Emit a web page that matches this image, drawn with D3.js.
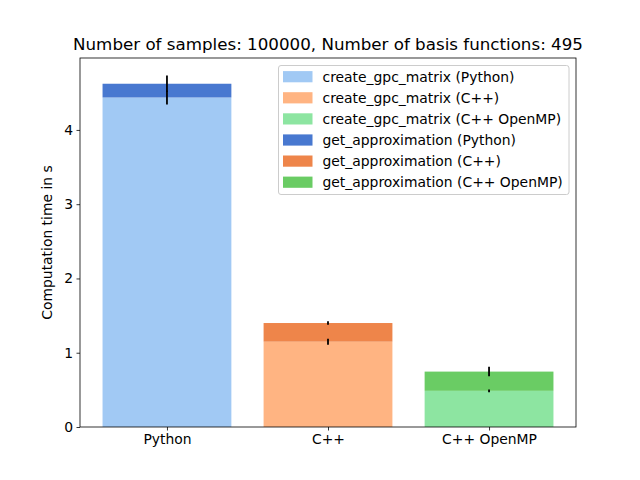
<!DOCTYPE html>
<html>
<head>
<meta charset="utf-8">
<script src="https://cdn.jsdelivr.net/npm/d3@7"></script>
<style>
  body { margin: 0; background: #fff; }
  text { font-family: "DejaVu Sans", sans-serif; fill: #000; }
</style>
</head>
<body>
<div id="chart"></div>
<script>
// Data
const categories = ["Python", "C++", "C++ OpenMP"];
const createTimes = [4.437, 1.149, 0.487];
const createErr = [0.094, 0.040, 0.018];
const approxTimes = [0.185, 0.251, 0.259];
const approxErr = [0.110, 0.023, 0.064];
const createLabels = ["create_gpc_matrix (Python)", "create_gpc_matrix (C++)", "create_gpc_matrix (C++ OpenMP)"];
const approxLabels = ["get_approximation (Python)", "get_approximation (C++)", "get_approximation (C++ OpenMP)"];
const createColors = ["#a1c9f4", "#ffb482", "#8de5a1"];
const approxColors = ["#4878d0", "#ee854a", "#6acc64"];
const yTicks = [0, 1, 2, 3, 4];

// Global const
const W = 640, H = 480;
const margin = {top: 58, right: 64, bottom: 53, left: 80};
const w = W - margin.left - margin.right;
const h = H - margin.top - margin.bottom;

let svg = d3.select("#chart")
  .append("svg")
    .attr("width", W)
    .attr("height", H);

let g = svg.append("g")
  .attr("transform", "translate(" + margin.left + "," + margin.top + ")");

// Scales
const idx = categories.map((d, i) => i);
const x = d3.scaleLinear().domain([-0.54, 2.54]).range([0, w]);
const barW = x(0.8) - x(0);

const ymax = d3.max(idx, i => createTimes[i] + approxTimes[i] + approxErr[i]) * 1.05;
const y = d3.scaleLinear().domain([0, ymax]).range([h, 0]);

// Bars: create_gpc_matrix
g.selectAll("rect.create")
  .data(idx)
  .enter()
  .append("rect")
    .attr("class", "create")
    .attr("x", i => x(i) - barW / 2)
    .attr("width", barW)
    .attr("y", i => y(createTimes[i]))
    .attr("height", i => y(0) - y(createTimes[i]))
    .style("fill", i => createColors[i]);

// Bars: get_approximation stacked on top
g.selectAll("rect.approx")
  .data(idx)
  .enter()
  .append("rect")
    .attr("class", "approx")
    .attr("x", i => x(i) - barW / 2)
    .attr("width", barW)
    .attr("y", i => y(createTimes[i] + approxTimes[i]))
    .attr("height", i => y(createTimes[i]) - y(createTimes[i] + approxTimes[i]))
    .style("fill", i => approxColors[i]);

// Error bars
g.selectAll("line.err-create")
  .data(idx)
  .enter()
  .append("line")
    .attr("x1", i => x(i)).attr("x2", i => x(i))
    .attr("y1", i => y(createTimes[i] - createErr[i]))
    .attr("y2", i => y(createTimes[i] + createErr[i]))
    .style("stroke", "#000")
    .style("stroke-width", 1.8);

g.selectAll("line.err-approx")
  .data(idx)
  .enter()
  .append("line")
    .attr("x1", i => x(i)).attr("x2", i => x(i))
    .attr("y1", i => y(createTimes[i] + approxTimes[i] - approxErr[i]))
    .attr("y2", i => y(createTimes[i] + approxTimes[i] + approxErr[i]))
    .style("stroke", "#000")
    .style("stroke-width", 1.8);

// Axes frame
g.append("rect")
  .attr("width", w).attr("height", h)
  .style("fill", "none")
  .style("stroke", "#000")
  .style("stroke-width", 0.8);

// X axis
let xAxis = g.append("g")
  .attr("transform", "translate(0," + h + ")")
  .call(d3.axisBottom(x).tickValues(idx).tickFormat(i => categories[i]).tickSize(3.5).tickPadding(3.5));
xAxis.select(".domain").remove();
xAxis.selectAll("line").style("stroke-width", 0.8);
xAxis.selectAll("text").style("font-size", "13.9px").style("font-family", "DejaVu Sans");

// Y axis
let yAxis = g.append("g")
  .call(d3.axisLeft(y).tickValues(yTicks).tickFormat(d3.format("d")).tickSize(3.5).tickPadding(3.5));
yAxis.select(".domain").remove();
yAxis.selectAll("line").style("stroke-width", 0.8);
yAxis.selectAll("text").style("font-size", "13.9px").style("font-family", "DejaVu Sans");

// Y axis legend
svg.append("text")
  .attr("text-anchor", "middle")
  .attr("transform", "translate(52," + (margin.top + h / 2) + ")rotate(-90)")
  .style("font-size", "13.9px")
  .text("Computation time in s");

// Title
svg.append("text")
  .attr("text-anchor", "middle")
  .attr("x", margin.left + w / 2)
  .attr("y", 50)
  .style("font-size", "16.7px")
  .text("Number of samples: 100000, Number of basis functions: 495");

// Legend
const legendItems = createLabels.map((l, i) => ({label: l, color: createColors[i]}))
  .concat(approxLabels.map((l, i) => ({label: l, color: approxColors[i]})));

let legend = svg.append("g").attr("transform", "translate(278.5,65.5)");
legend.append("rect")
  .attr("width", 290.5).attr("height", 129)
  .attr("rx", 2.5)
  .style("fill", "#fff").style("fill-opacity", 0.8)
  .style("stroke", "#cccccc").style("stroke-width", 1);

let rows = legend.selectAll("g.item")
  .data(legendItems)
  .enter()
  .append("g")
    .attr("transform", (d, i) => "translate(0," + (11.2 + i * 21.1) + ")");
rows.append("rect")
  .attr("x", 4.5).attr("y", -5.6)
  .attr("width", 29.5).attr("height", 11.2)
  .style("fill", d => d.color);
rows.append("text")
  .attr("x", 44)
  .attr("y", 5)
  .style("font-size", "13.9px")
  .text(d => d.label);
</script>
</body>
</html>
